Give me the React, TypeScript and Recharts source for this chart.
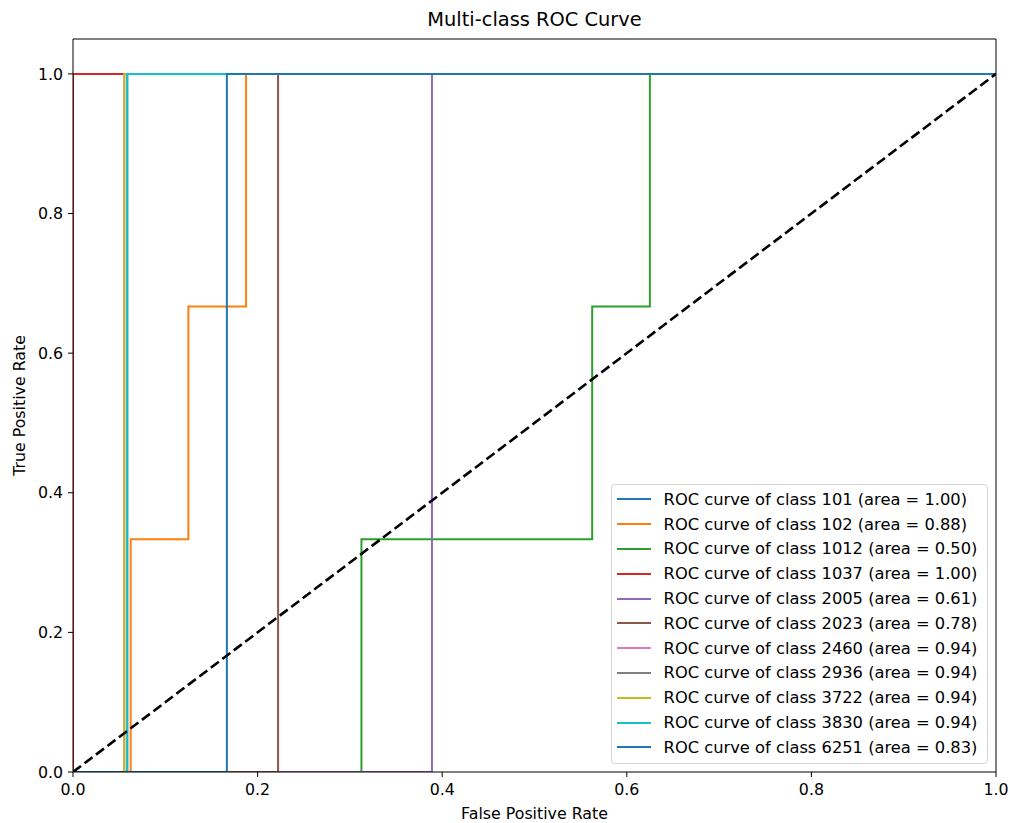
import React from "react";
import {
  LineChart,
  Line,
  XAxis,
  YAxis,
  Legend,
  ReferenceLine,
} from "recharts";

// class labels and their AUC values
const CLASSES = ["101", "102", "1012", "1037", "2005", "2023", "2460", "2936", "3722", "3830", "6251"];
const AUCS = [1.0, 0.88, 0.5, 1.0, 0.61, 0.78, 0.94, 0.94, 0.94, 0.94, 0.83];

// ROC points per class (false positive rate / true positive rate)
const FPR_101 = [0, 0, 1];
const TPR_101 = [0, 1, 1];
const FPR_102 = [0, 0.0625, 0.0625, 0.125, 0.125, 0.1875, 0.1875, 1];
const TPR_102 = [0, 0, 0.3333, 0.3333, 0.6667, 0.6667, 1, 1];
const FPR_1012 = [0, 0.3125, 0.3125, 0.5625, 0.5625, 0.625, 0.625, 1];
const TPR_1012 = [0, 0, 0.3333, 0.3333, 0.6667, 0.6667, 1, 1];
const FPR_1037 = [0, 0, 1];
const TPR_1037 = [0, 1, 1];
const FPR_2005 = [0, 0.3889, 0.3889, 1];
const TPR_2005 = [0, 0, 1, 1];
const FPR_2023 = [0, 0.2222, 0.2222, 1];
const TPR_2023 = [0, 0, 1, 1];
const FPR_2460 = [0, 0.0556, 0.0556, 1];
const TPR_2460 = [0, 0, 1, 1];
const FPR_2936 = [0, 0.0588, 0.0588, 1];
const TPR_2936 = [0, 0, 1, 1];
const FPR_3722 = [0, 0.0556, 0.0556, 1];
const TPR_3722 = [0, 0, 1, 1];
const FPR_3830 = [0, 0.0588, 0.0588, 1];
const TPR_3830 = [0, 0, 1, 1];
const FPR_6251 = [0, 0.1667, 0.1667, 1];
const TPR_6251 = [0, 0, 1, 1];

const FPRS = [FPR_101, FPR_102, FPR_1012, FPR_1037, FPR_2005, FPR_2023, FPR_2460, FPR_2936, FPR_3722, FPR_3830, FPR_6251];
const TPRS = [TPR_101, TPR_102, TPR_1012, TPR_1037, TPR_2005, TPR_2023, TPR_2460, TPR_2936, TPR_3722, TPR_3830, TPR_6251];

const DIAG_X = [0, 1];
const DIAG_Y = [0, 1];

const TICKS = [0, 0.2, 0.4, 0.6, 0.8, 1.0];

const COLORS = [
  "#1f77b4", "#ff7f0e", "#2ca02c", "#d62728", "#9467bd",
  "#8c564b", "#e377c2", "#7f7f7f", "#bcbd22", "#17becf", "#1f77b4",
];

const FONT = "'DejaVu Sans', sans-serif";
const FS = 15.8;
const LEGEND_FS = 16.3;

const toPoints = (xs: number[], ys: number[]) => xs.map((x, i) => ({ x, y: ys[i] }));
const labelFor = (i: number) => `ROC curve of class ${CLASSES[i]} (area = ${AUCS[i].toFixed(2)})`;
const LEGEND_NAMES = CLASSES.map((_, i) => labelFor(i));

function MplLegend({ payload }: { payload?: Array<{ value: string; color: string }> }) {
  if (!payload?.length) return null;
  // keep plotting order, drop the chance line
  const items = payload
    .filter((p) => LEGEND_NAMES.includes(p.value))
    .sort((a, b) => LEGEND_NAMES.indexOf(a.value) - LEGEND_NAMES.indexOf(b.value));
  return (
    <div
      style={{
        boxSizing: "border-box",
        width: 377,
        height: 280,
        border: "1px solid #d5d5d5",
        borderRadius: 4,
        background: "rgba(255,255,255,0.8)",
        paddingTop: 2,
        fontFamily: FONT,
        fontSize: LEGEND_FS,
        color: "#000",
      }}
    >
      {items.map((p, i) => (
        <div key={i} style={{ display: "flex", alignItems: "center", height: 24.8 }}>
          <div style={{ width: 34, height: 2, background: p.color, marginLeft: 5, marginRight: 12.6, flexShrink: 0 }} />
          <span style={{ whiteSpace: "nowrap" }}>{p.value}</span>
        </div>
      ))}
    </div>
  );
}

export default function App() {
  return (
    <div style={{ position: "absolute", left: 0, top: 0, width: 1010, height: 823, background: "#fff" }}>
      <div
        style={{
          position: "absolute",
          left: 73,
          top: 8,
          width: 923,
          height: 24,
          lineHeight: "24px",
          textAlign: "center",
          fontFamily: FONT,
          fontSize: 19.4,
          color: "#000",
        }}
      >
        Multi-class ROC Curve
      </div>
      <LineChart width={1010} height={823} margin={{ top: 39, right: 14, bottom: 0, left: 0 }}>
        <XAxis
          dataKey="x"
          type="number"
          domain={[0, 1]}
          ticks={TICKS}
          allowDataOverflow
          tickFormatter={(v: number) => v.toFixed(1)}
          tick={{ fill: "#000", fontSize: FS, fontFamily: FONT }}
          tickLine={{ stroke: "#000" }}
          axisLine={{ stroke: "#000" }}
          tickSize={5}
          tickMargin={7}
          height={51}
          label={{
            value: "False Positive Rate",
            position: "insideBottom",
            offset: 4,
            style: { fill: "#000", fontSize: FS, fontFamily: FONT },
          }}
        />
        <YAxis
          type="number"
          domain={[0, 1.05]}
          ticks={TICKS}
          allowDataOverflow
          tickFormatter={(v: number) => v.toFixed(1)}
          tick={{ fill: "#000", fontSize: FS, fontFamily: FONT }}
          tickLine={{ stroke: "#000" }}
          axisLine={{ stroke: "#000" }}
          tickSize={5}
          tickMargin={5}
          width={73}
          label={{
            value: "True Positive Rate",
            angle: -90,
            position: "insideLeft",
            offset: 19,
            style: { fill: "#000", fontSize: FS, fontFamily: FONT, textAnchor: "middle" },
          }}
        />
        <ReferenceLine x={1} stroke="#000" strokeWidth={1} />
        <ReferenceLine y={1.05} stroke="#000" strokeWidth={1} />

        {CLASSES.map((c, i) => (
          <Line
            key={c + i}
            data={toPoints(FPRS[i], TPRS[i])}
            dataKey="y"
            name={labelFor(i)}
            type="linear"
            stroke={COLORS[i]}
            strokeWidth={2}
            dot={false}
            activeDot={false}
            isAnimationActive={false}
          />
        ))}

        <Line
          data={toPoints(DIAG_X, DIAG_Y)}
          dataKey="y"
          name="chance"
          type="linear"
          stroke="#000"
          strokeWidth={2.6}
          strokeDasharray="10 4.4"
          dot={false}
          activeDot={false}
          legendType="none"
          isAnimationActive={false}
        />

        <Legend
          layout="vertical"
          align="center"
          verticalAlign="middle"
          content={<MplLegend />}
          wrapperStyle={{ left: 611, top: 484, width: 377, height: 280 }}
        />
      </LineChart>
    </div>
  );
}
